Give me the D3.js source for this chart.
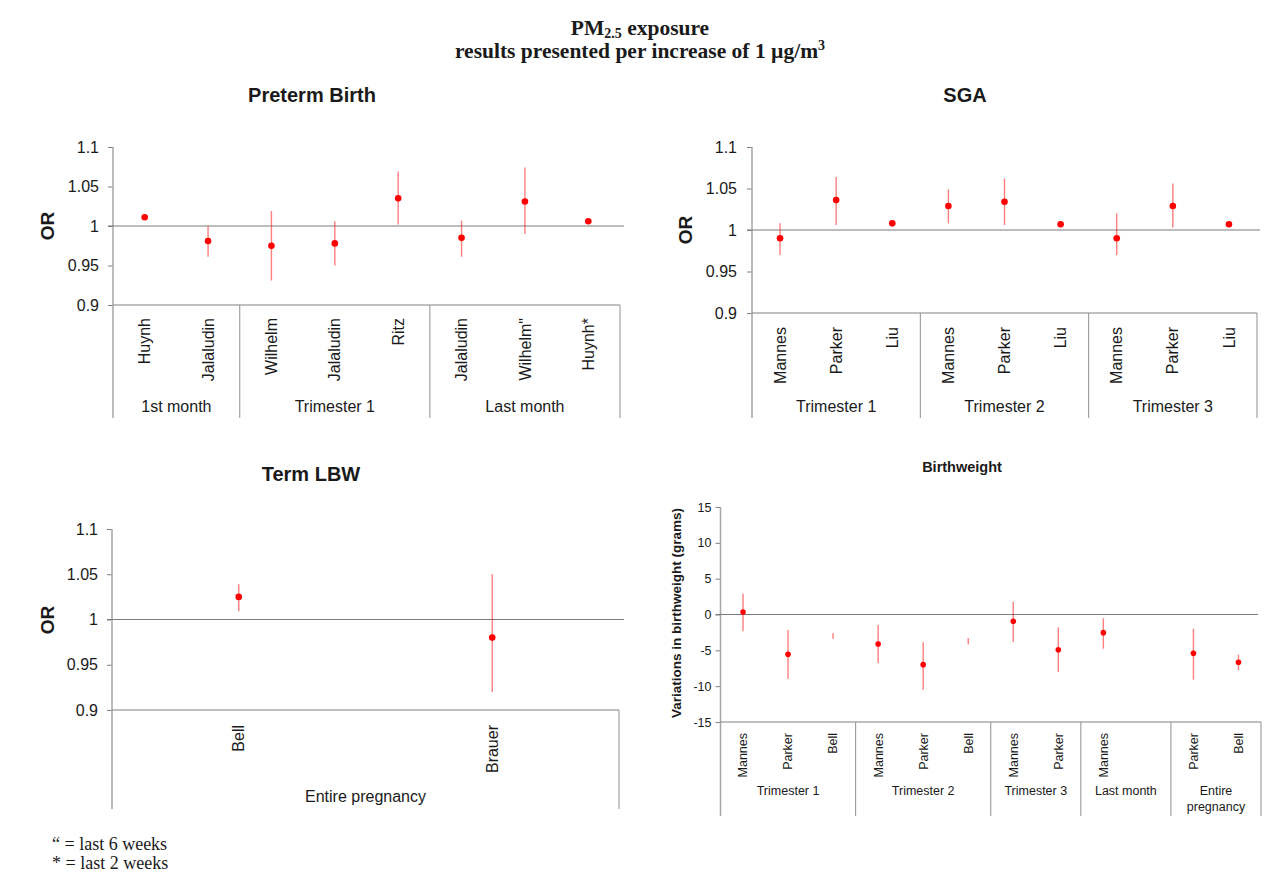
<!DOCTYPE html>
<html>
<head>
<meta charset="utf-8">
<script src="https://cdn.jsdelivr.net/npm/d3@7"></script>
<style>
  body { margin: 0; background: #fff; }
  svg text { font-family: Arial, "Liberation Sans", sans-serif; fill: #1a1a1a; }
</style>
</head>
<body>
<div id="chart"></div>
<script>
//Preterm birth (OR per 1 ug/m3)
let pretermStudies = ["Huynh", "Jalaludin", "Wilhelm", "Jalaludin", "Ritz", "Jalaludin", "Wilhelm\"", "Huynh*"];
let pretermGroups = ["1st month", "Trimester 1", "Last month"];
let pretermGroupSizes = [2, 3, 3];
let pretermOR = [1.011, 0.981, 0.975, 0.978, 1.035, 0.985, 1.031, 1.006];
let pretermLow = [1.009, 0.961, 0.931, 0.950, 1.002, 0.961, 0.990, 1.004];
let pretermHigh = [1.013, 1.000, 1.019, 1.006, 1.069, 1.007, 1.074, 1.008];

//SGA
let sgaStudies = ["Mannes", "Parker", "Liu", "Mannes", "Parker", "Liu", "Mannes", "Parker", "Liu"];
let sgaGroups = ["Trimester 1", "Trimester 2", "Trimester 3"];
let sgaGroupSizes = [3, 3, 3];
let sgaOR = [0.990, 1.036, 1.008, 1.029, 1.034, 1.007, 0.990, 1.029, 1.007];
let sgaLow = [0.970, 1.006, 1.005, 1.008, 1.006, 1.005, 0.970, 1.003, 1.005];
let sgaHigh = [1.008, 1.064, 1.010, 1.049, 1.062, 1.008, 1.020, 1.056, 1.008];

//Term LBW
let lbwStudies = ["Bell", "Brauer"];
let lbwGroups = ["Entire pregnancy"];
let lbwGroupSizes = [2];
let lbwOR = [1.025, 0.980];
let lbwLow = [1.009, 0.920];
let lbwHigh = [1.039, 1.050];

//Birthweight (grams), one empty slot in "Last month"
let bwStudies = ["Mannes", "Parker", "Bell", "Mannes", "Parker", "Bell", "Mannes", "Parker", "Mannes", "", "Parker", "Bell"];
let bwGroups = ["Trimester 1", "Trimester 2", "Trimester 3", "Last month", "Entire pregnancy"];
let bwGroupSizes = [3, 3, 2, 2, 2];
let bwEst = [0.35, -5.56, null, -4.12, -7.0, null, -0.95, -4.91, -2.53, null, -5.42, -6.67];
let bwLow = [-2.35, -8.95, -3.42, -6.81, -10.49, -4.2, -3.84, -8.02, -4.77, null, -9.09, -7.79];
let bwHigh = [2.91, -2.16, -2.58, -1.47, -3.88, -3.28, 1.79, -1.79, -0.53, null, -1.98, -5.6];

//Axis ticks
let orTicks = [0.9, 0.95, 1, 1.05, 1.1];
let bwTicks = [-15, -10, -5, 0, 5, 10, 15];

let svg = d3.select("#chart").append("svg")
  .attr("width", 1273)
  .attr("height", 877);

//Main title
let title = svg.append("g")
  .style("font-family", "'Liberation Serif', 'Times New Roman', serif")
  .style("font-weight", "bold");

let t1 = title.append("text")
  .attr("x", 640).attr("y", 35)
  .attr("text-anchor", "middle")
  .style("font-family", "inherit")
  .style("font-size", "21.5px");
t1.append("tspan").text("PM");
t1.append("tspan").attr("dy", 3).style("font-size", "14px").text("2.5");
t1.append("tspan").attr("dy", -3).text(" exposure");

let t2 = title.append("text")
  .attr("x", 640).attr("y", 58)
  .attr("text-anchor", "middle")
  .style("font-family", "inherit")
  .style("font-size", "21.5px");
t2.append("tspan").text("results presented per increase of 1 \u00b5g/m");
t2.append("tspan").attr("dy", -8).style("font-size", "14px").text("3");

function drawPanel(p) {
  let g = svg.append("g");

  let y = d3.scaleLinear().domain(p.domain).range([p.yBot, p.yTop]);
  let x = d3.scaleBand().domain(d3.range(p.studies.length)).range([p.left, p.right]);
  let bw = x.bandwidth();

  //y axis ticks and labels
  let yAxis = d3.axisLeft(y)
    .tickValues(p.ticks)
    .tickSize(5)
    .tickPadding(p.pad)
    .tickFormat(d => String(d));

  let ax = g.append("g")
    .attr("transform", "translate(" + p.left + ",0)")
    .call(yAxis);
  ax.select(".domain").remove();
  ax.selectAll(".tick line").attr("stroke", "#808080");
  ax.selectAll(".tick text")
    .style("font-size", p.fs + "px")
    .attr("fill", "#1a1a1a");

  //left axis line, down through the category area
  g.append("line")
    .attr("x1", p.left).attr("x2", p.left)
    .attr("y1", p.yTop).attr("y2", p.sepBottom)
    .attr("stroke", "#a6a6a6")
    .attr("stroke-width", 1.5);

  //bottom line of plot area
  g.append("line")
    .attr("x1", p.left).attr("x2", p.right)
    .attr("y1", p.yBot).attr("y2", p.yBot)
    .attr("stroke", "#808080");

  //reference line (OR = 1 / 0 grams)
  g.append("line")
    .attr("x1", p.left - 5).attr("x2", p.refEnd)
    .attr("y1", y(p.ref)).attr("y2", y(p.ref))
    .attr("stroke", "#7a7a7a");

  //group separators and labels
  let start = 0;
  p.groups.forEach(function (name, k) {
    let end = start + p.groupSizes[k];
    let xr = end < p.studies.length ? x(end) : p.right;
    let xl = x(start);
    g.append("line")
      .attr("x1", xr).attr("x2", xr)
      .attr("y1", p.yBot).attr("y2", p.sepBottom)
      .attr("stroke", "#909090");

    let lbl = g.append("text")
      .attr("x", (xl + xr) / 2)
      .attr("y", p.groupY)
      .attr("text-anchor", "middle")
      .style("font-size", p.fs + "px")
      .text(name);
    //wrap the label if it does not fit in the group
    if (lbl.node().getComputedTextLength() > xr - xl - 4) {
      let words = name.split(" ");
      lbl.text(null);
      words.forEach(function (w, j) {
        lbl.append("tspan")
          .attr("x", (xl + xr) / 2)
          .attr("dy", j === 0 ? 0 : p.fs * 1.3)
          .text(w);
      });
    }
    start = end;
  });

  //study labels, rotated
  g.selectAll(".study")
    .data(p.studies)
    .enter().append("text")
    .attr("class", "study")
    .attr("transform", (d, i) => "translate(" + (x(i) + bw / 2) + "," + p.catEnd + ") rotate(-90)")
    .attr("dy", "0.35em")
    .attr("text-anchor", "end")
    .style("font-size", p.fs + "px")
    .text(d => d);

  //confidence intervals
  g.selectAll(".ci")
    .data(d3.range(p.studies.length).filter(i => p.low[i] !== null))
    .enter().append("line")
    .attr("class", "ci")
    .attr("x1", i => x(i) + bw / 2)
    .attr("x2", i => x(i) + bw / 2)
    .attr("y1", i => y(p.low[i]))
    .attr("y2", i => y(p.high[i]))
    .attr("stroke", "#ff0000")
    .attr("stroke-opacity", 0.5)
    .attr("stroke-width", 1.4);

  //point estimates
  g.selectAll(".pt")
    .data(d3.range(p.studies.length).filter(i => p.est[i] !== null))
    .enter().append("circle")
    .attr("class", "pt")
    .attr("cx", i => x(i) + bw / 2)
    .attr("cy", i => y(p.est[i]))
    .attr("r", p.r)
    .attr("fill", "#ff0000");

  //panel title
  g.append("text")
    .attr("x", p.titleX).attr("y", p.titleY)
    .attr("text-anchor", "middle")
    .style("font-size", p.titleFs + "px")
    .style("font-weight", "bold")
    .text(p.title);

  //y label
  g.append("text")
    .attr("transform", "translate(" + p.ylabX + "," + p.ylabY + ") rotate(-90)")
    .attr("text-anchor", "middle")
    .attr("dy", "0.35em")
    .style("font-size", p.ylabFs + "px")
    .style("font-weight", "bold")
    .text(p.ylab);
}

drawPanel({
  title: "Preterm Birth", ylab: "OR",
  studies: pretermStudies, groups: pretermGroups, groupSizes: pretermGroupSizes,
  est: pretermOR, low: pretermLow, high: pretermHigh,
  domain: [0.9, 1.1], ticks: orTicks, ref: 1,
  left: 113, right: 620, refEnd: 624, yTop: 147, yBot: 305,
  sepBottom: 418, catEnd: 318, groupY: 412, pad: 9,
  fs: 16, r: 3.3, titleX: 312, titleY: 102, titleFs: 20,
  ylabX: 47, ylabY: 226, ylabFs: 19
});

drawPanel({
  title: "SGA", ylab: "OR",
  studies: sgaStudies, groups: sgaGroups, groupSizes: sgaGroupSizes,
  est: sgaOR, low: sgaLow, high: sgaHigh,
  domain: [0.9, 1.1], ticks: orTicks, ref: 1,
  left: 752, right: 1257, refEnd: 1260, yTop: 147, yBot: 313,
  sepBottom: 418, catEnd: 327, groupY: 412, pad: 10,
  fs: 16, r: 3.3, titleX: 965, titleY: 102, titleFs: 20,
  ylabX: 685, ylabY: 230, ylabFs: 19
});

drawPanel({
  title: "Term LBW", ylab: "OR",
  studies: lbwStudies, groups: lbwGroups, groupSizes: lbwGroupSizes,
  est: lbwOR, low: lbwLow, high: lbwHigh,
  domain: [0.9, 1.1], ticks: orTicks, ref: 1,
  left: 112, right: 619, refEnd: 624, yTop: 529, yBot: 710,
  sepBottom: 809, catEnd: 725, groupY: 802, pad: 9,
  fs: 16, r: 3.3, titleX: 311, titleY: 481, titleFs: 20,
  ylabX: 47, ylabY: 620, ylabFs: 19
});

drawPanel({
  title: "Birthweight", ylab: "Variations in birthweight (grams)",
  studies: bwStudies, groups: bwGroups, groupSizes: bwGroupSizes,
  est: bwEst, low: bwLow, high: bwHigh,
  domain: [-15, 15], ticks: bwTicks, ref: 0,
  left: 720.5, right: 1261, refEnd: 1258, yTop: 507, yBot: 722,
  sepBottom: 816, catEnd: 733, groupY: 795, pad: 4,
  fs: 12.5, r: 2.8, titleX: 962, titleY: 472, titleFs: 14.5,
  ylabX: 676, ylabY: 613, ylabFs: 13.5
});

//footnotes
let notes = ["\u201c = last 6 weeks", "* = last 2 weeks"];
svg.selectAll(".note")
  .data(notes)
  .enter().append("text")
  .attr("class", "note")
  .attr("x", 52)
  .attr("y", (d, i) => 850 + i * 19)
  .style("font-family", "'Liberation Serif', 'Times New Roman', serif")
  .style("font-size", "18px")
  .text(d => d);
</script>
</body>
</html>
